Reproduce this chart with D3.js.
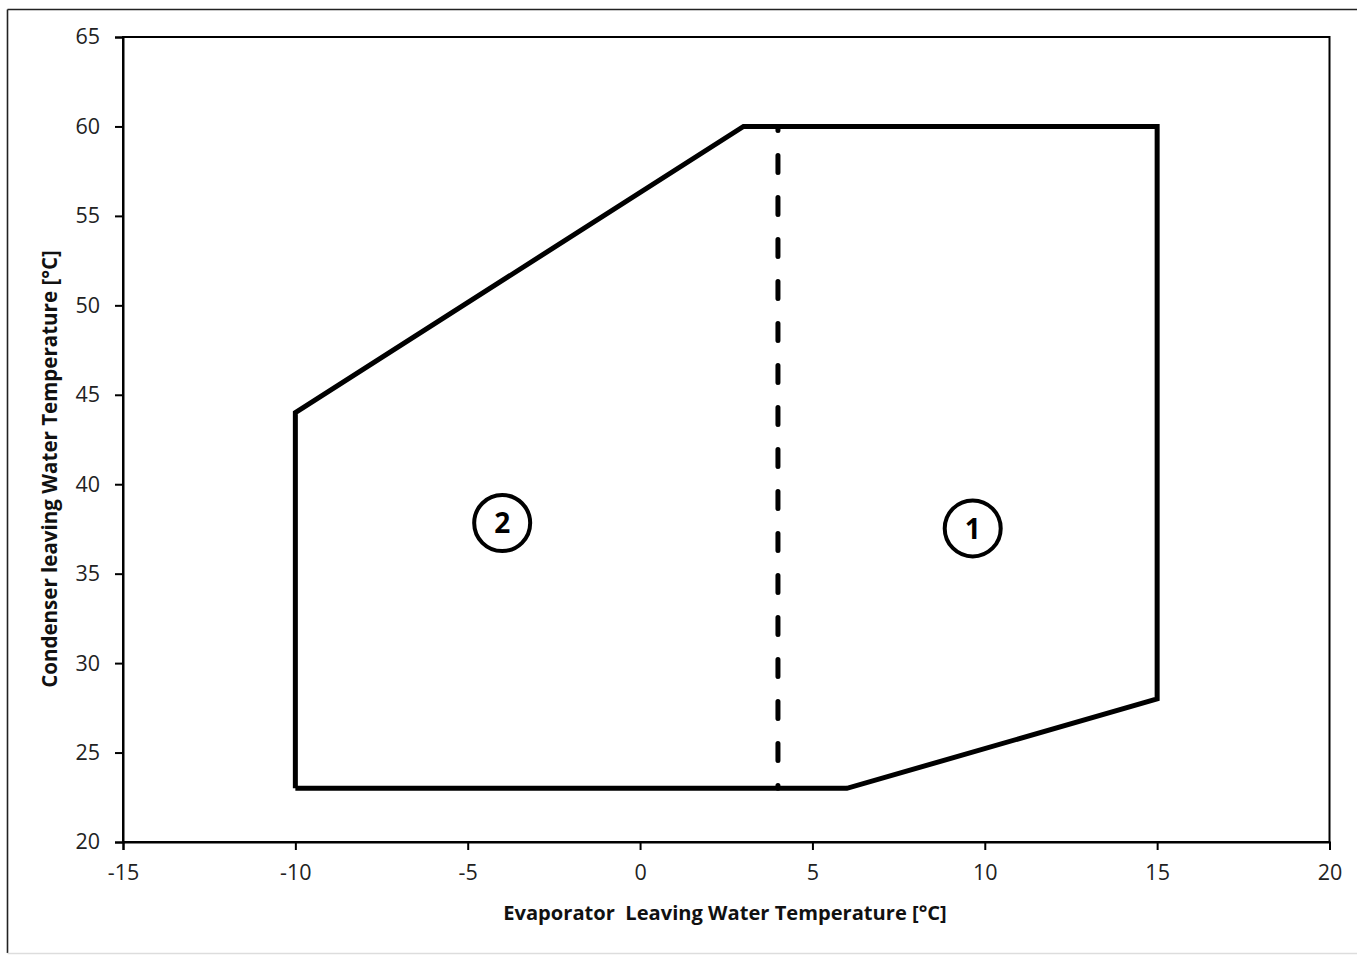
<!DOCTYPE html>
<html>
<head>
<meta charset="utf-8">
<script src="https://cdn.jsdelivr.net/npm/d3@7/dist/d3.min.js"></script>
<style>
  html, body { margin: 0; padding: 0; background: #fff; }
  svg { display: block; }
</style>
</head>
<body>
<svg id="chart" width="1357" height="955"></svg>
<script>
// Operating envelope boundary (evaporator LWT, condenser LWT)
const envelopeX = [-10, 6, 15, 15, 3, -10, -10];
const envelopeY = [23, 23, 28, 60, 60, 44, 23];

// Divider between zone 2 (left) and zone 1 (right)
const dividerX = [4, 4];
const dividerY = [60, 23];

// Zone markers
const zoneLabels = ["2", "1"];
const zoneX = [-4, 9.65];
const zoneY = [37.83, 37.53];

// Axis ticks
const xTicks = [-15, -10, -5, 0, 5, 10, 15, 20];
const yTicks = [20, 25, 30, 35, 40, 45, 50, 55, 60, 65];

const xTitle = "Evaporator\u00a0 Leaving Water Temperature [°C]";
const yTitle = "Condenser leaving Water Temperature [°C]";

const FONT = "'Open Sans', Lato, sans-serif";
const svg = d3.select("#chart");

// Outer frame
svg.append("line").attr("x1", 7.5).attr("x2", 7.5).attr("y1", 9.5).attr("y2", 953)
  .attr("stroke", "#222").attr("stroke-width", 1.6);
svg.append("line").attr("x1", 7.5).attr("x2", 1357).attr("y1", 9.5).attr("y2", 9.5)
  .attr("stroke", "#222").attr("stroke-width", 1.6);
svg.append("line").attr("x1", 7.5).attr("x2", 1357).attr("y1", 953.5).attr("y2", 953.5)
  .attr("stroke", "#ddd").attr("stroke-width", 1.5);

const plot = { left: 123, right: 1329.5, top: 37, bottom: 842 };

const x = d3.scaleLinear().domain([-15, 20]).range([plot.left, plot.right]);
const y = d3.scaleLinear().domain([20, 65]).range([plot.bottom, plot.top]);

// Plot area box
svg.append("rect")
  .attr("x", plot.left).attr("y", plot.top)
  .attr("width", plot.right - plot.left).attr("height", plot.bottom - plot.top)
  .attr("fill", "none").attr("stroke", "#000").attr("stroke-width", 2);

// Axes
const xAxis = svg.append("g")
  .attr("transform", `translate(0,${plot.bottom})`)
  .call(d3.axisBottom(x).tickValues(xTicks).tickSize(8).tickPadding(15).tickFormat(d => String(d)));
const yAxis = svg.append("g")
  .attr("transform", `translate(${plot.left},0)`)
  .call(d3.axisLeft(y).tickValues(yTicks).tickSize(8).tickPadding(15).tickFormat(d => String(d)));

[xAxis, yAxis].forEach(g => {
  g.select(".domain").attr("stroke", "#000").attr("stroke-width", 2);
  g.selectAll(".tick line").attr("stroke", "#000").attr("stroke-width", 2);
  g.selectAll(".tick text")
    .attr("font-family", FONT)
    .attr("font-size", 21.5).attr("fill", "#222");
});

// Size a title so it spans the given length
function fitText(sel, target) {
  const size = +sel.attr("font-size");
  const len = sel.node().getComputedTextLength();
  if (len > 0) sel.attr("font-size", (size * target / len).toFixed(2));
}

// Axis titles
const xt = svg.append("text")
  .attr("x", 725).attr("y", 920)
  .attr("text-anchor", "middle")
  .attr("font-size", 20).attr("font-weight", "bold")
  .attr("font-family", FONT).attr("fill", "#111")
  .text(xTitle);
fitText(xt, 444);
const yt = svg.append("text")
  .attr("transform", "translate(57,469) rotate(-90)")
  .attr("text-anchor", "middle")
  .attr("font-size", 20).attr("font-weight", "bold")
  .attr("font-family", FONT).attr("fill", "#111")
  .text(yTitle);
fitText(yt, 438);

// Envelope outline
const line = d3.line().x(d => x(d[0])).y(d => y(d[1]));
svg.append("path")
  .datum(d3.zip(envelopeX, envelopeY))
  .attr("d", line)
  .attr("fill", "none").attr("stroke", "#000")
  .attr("stroke-width", 5).attr("stroke-linejoin", "miter");

// Dashed divider
svg.append("path")
  .datum(d3.zip(dividerX, dividerY))
  .attr("d", line)
  .attr("fill", "none").attr("stroke", "#000")
  .attr("stroke-width", 5).attr("stroke-linecap", "round")
  .attr("stroke-dasharray", "17 25").attr("stroke-dashoffset", 13);

// Zone markers
const zones = svg.append("g").selectAll("g")
  .data(zoneLabels.map((t, i) => ({ t, cx: zoneX[i], cy: zoneY[i] })))
  .join("g")
  .attr("transform", d => `translate(${x(d.cx)},${y(d.cy)})`);
zones.append("circle").attr("r", 28)
  .attr("fill", "none").attr("stroke", "#000").attr("stroke-width", 4);
zones.append("text")
  .attr("text-anchor", "middle").attr("dy", "0.36em")
  .attr("font-size", 28).attr("font-weight", "bold")
  .attr("font-family", FONT)
  .attr("fill", "#000")
  .text(d => d.t);
</script>
</body>
</html>
